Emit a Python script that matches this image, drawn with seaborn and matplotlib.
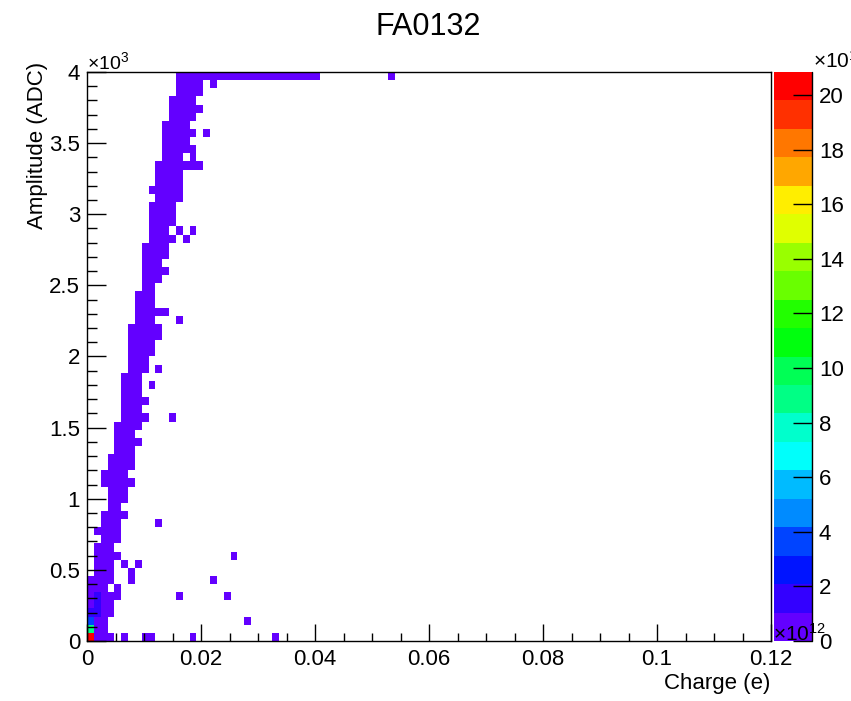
import numpy as np
import pandas as pd
import matplotlib
matplotlib.use("Agg")
import matplotlib.pyplot as plt
from matplotlib.colors import ListedColormap
from matplotlib.ticker import MultipleLocator, FuncFormatter
from matplotlib.lines import Line2D
import seaborn as sns

# ---------------- data ----------------
title = "FA0132"
x_label = "Charge (e)"
y_label = "Amplitude (ADC)"

charge_range = (0.0, 0.12)
n_charge_bins = 100
amp_range = (0.0, 4000.0)
n_amp_bins = 70

# main band: for each amplitude bin (0..69) the first and last filled charge bin
band_first = [0, 0, 0, 0, 0, 0, 0, 0, 1, 1,
              1, 1, 2, 1, 2, 2, 3, 3, 3, 2,
              2, 3, 3, 4, 4, 4, 4, 5, 5, 5,
              5, 5, 5, 6, 6, 6, 6, 6, 6, 7,
              7, 7, 7, 8, 8, 8, 8, 8, 8, 9,
              9, 9, 9, 9, 10, 9, 10, 10, 10, 11,
              11, 11, 11, 11, 12, 12, 12, 13, 13, 13]
band_last = [3, 2, 2, 3, 3, 4, 2, 3, 3, 3,
             4, 3, 4, 4, 4, 5, 4, 5, 5, 6,
             5, 6, 6, 6, 7, 6, 7, 8, 7, 8,
             7, 7, 7, 8, 8, 9, 9, 10, 10, 9,
             11, 9, 9, 9, 10, 11, 10, 11, 11, 12,
             11, 12, 12, 12, 13, 13, 13, 13, 16, 13,
             15, 14, 15, 14, 15, 16, 15, 16, 16, 33]
# holes inside the band (amp bin, charge bin)
hole_amp = [59]
hole_charge = [14]
# isolated filled cells (amp bin, charge bin)
iso_amp = [0, 0, 0, 0, 0, 2, 5, 5, 6, 7, 7, 8, 9, 9, 10, 14, 27, 31, 33, 39, 49, 50, 50, 59, 62, 68, 69]
iso_charge = [5, 8, 9, 15, 27, 23, 13, 20, 4, 6, 18, 6, 5, 7, 21, 10, 12, 9, 10, 13, 14, 13, 15, 15, 17, 18, 44]
# typical content of a sparse cell (x1e12)
sparse_content = 0.5
# high-content cells near the origin (amp bin, charge bin, content x1e12)
peak_amp = [0, 1, 2, 3, 3, 4, 5]
peak_charge = [0, 0, 0, 0, 1, 1, 1]
peak_content = [20.84, 8.8, 3.6, 1.5, 1.5, 1.5, 1.5]

z_max = 20.84
cbar_ticks = [0, 2, 4, 6, 8, 10, 12, 14, 16, 18, 20]
band_colors = ["#6300ff", "#3300ff", "#0014ff", "#0044ff", "#008bff",
               "#00bbff", "#00fffb", "#00ffcc", "#00ff85", "#00ff55",
               "#00ff0e", "#22ff00", "#69ff00", "#99ff00", "#e0ff00",
               "#ffee00", "#ffa700", "#ff7700", "#ff3000", "#ff0000"]

# ---------------- build weighted cells ----------------
xedges = np.linspace(charge_range[0], charge_range[1], n_charge_bins + 1)
yedges = np.linspace(amp_range[0], amp_range[1], n_amp_bins + 1)
xc = 0.5 * (xedges[:-1] + xedges[1:])
yc = 0.5 * (yedges[:-1] + yedges[1:])

content = {}
for r, (a, b) in enumerate(zip(band_first, band_last)):
    for c in range(a, b + 1):
        content[(r, c)] = sparse_content
for r, c in zip(hole_amp, hole_charge):
    content.pop((r, c), None)
for r, c in zip(iso_amp, iso_charge):
    content[(r, c)] = sparse_content
for r, c, v in zip(peak_amp, peak_charge, peak_content):
    content[(r, c)] = v

df = pd.DataFrame({
    "charge": [xc[c] for (r, c) in content],
    "amp": [yc[r] for (r, c) in content],
    "w": list(content.values()),
})

# ---------------- plot ----------------
sns.set_style("white")
plt.rcParams["font.family"] = ["Liberation Sans", "DejaVu Sans"]
plt.rcParams["mathtext.default"] = "regular"
plt.rcParams["text.color"] = "black"
plt.rcParams["axes.labelcolor"] = "black"
plt.rcParams["xtick.color"] = "black"
plt.rcParams["ytick.color"] = "black"
plt.rcParams["axes.axisbelow"] = False

W, H = 851, 701
fig = plt.figure(figsize=(W / 100, H / 100), dpi=100)
fig.patch.set_facecolor("white")
ax = fig.add_axes([87 / W, 1 - 641 / H, 684 / W, 569 / H])
cax = fig.add_axes([774 / W, 1 - 641 / H, 38 / W, 569 / H])

cmap = ListedColormap(band_colors)
sns.histplot(data=df, x="charge", y="amp", weights="w",
             bins=(xedges, yedges), cmap=cmap, vmin=0, vmax=z_max,
             cbar=True, cbar_ax=cax, ax=ax)

ax.set_axisbelow(False)
ax.set_xlim(*charge_range)
ax.set_ylim(*amp_range)
ax.set_xlabel("")
ax.set_ylabel("")
ax.xaxis.set_major_locator(MultipleLocator(0.02))
ax.xaxis.set_minor_locator(MultipleLocator(0.005))
ax.yaxis.set_major_locator(MultipleLocator(500))
ax.yaxis.set_minor_locator(MultipleLocator(100))
ax.xaxis.set_major_formatter(FuncFormatter(lambda v, p: f"{v:g}"))
ax.yaxis.set_major_formatter(FuncFormatter(lambda v, p: f"{v / 1000:g}"))
ax.tick_params(which="both", direction="in", bottom=True, left=True,
               top=False, right=False, labelsize=16, width=1,
               color="black", labelcolor="black")
ax.tick_params(axis="x", which="major", length=12, pad=6)
ax.tick_params(axis="x", which="minor", length=6)
ax.tick_params(axis="y", which="major", length=14, pad=5)
ax.tick_params(axis="y", which="minor", length=7)
for s in ax.spines.values():
    s.set_visible(True)
    s.set_color("black")
    s.set_linewidth(1)
    s.set_zorder(5)

cbar = ax.collections[0].colorbar
cbar.set_ticks(cbar_ticks)
cbar.ax.set_axisbelow(False)
cbar.ax.minorticks_off()
cbar.ax.tick_params(direction="in", length=14, width=1, labelsize=16,
                    pad=5, right=True, left=False, color="black",
                    labelcolor="black")
cbar.outline.set_visible(False)
cbar.ax.add_line(Line2D([1, 1], [0, 1], transform=cbar.ax.transAxes,
                        color="black", lw=1, clip_on=False, zorder=5))

fig.text(428 / W, 1 - 27 / H, title, ha="center", va="center", fontsize=22)
fig.text(770 / W, 1 - 683 / H, x_label, ha="right", va="center", fontsize=16)
fig.text(38 / W, 1 - 62 / H, y_label, rotation=90, ha="center", va="top", fontsize=16)
fig.text(87 / W, 1 - 69 / H, "×10$^{3}$", ha="left", va="baseline", fontsize=14)
fig.text(773 / W, 1 - 641 / H, "×10$^{12}$", ha="left", va="baseline", fontsize=15)
fig.text(813 / W, 1 - 68 / H, "×10$^{12}$", ha="left", va="baseline", fontsize=15)

fig.savefig("out.png", dpi=100)
